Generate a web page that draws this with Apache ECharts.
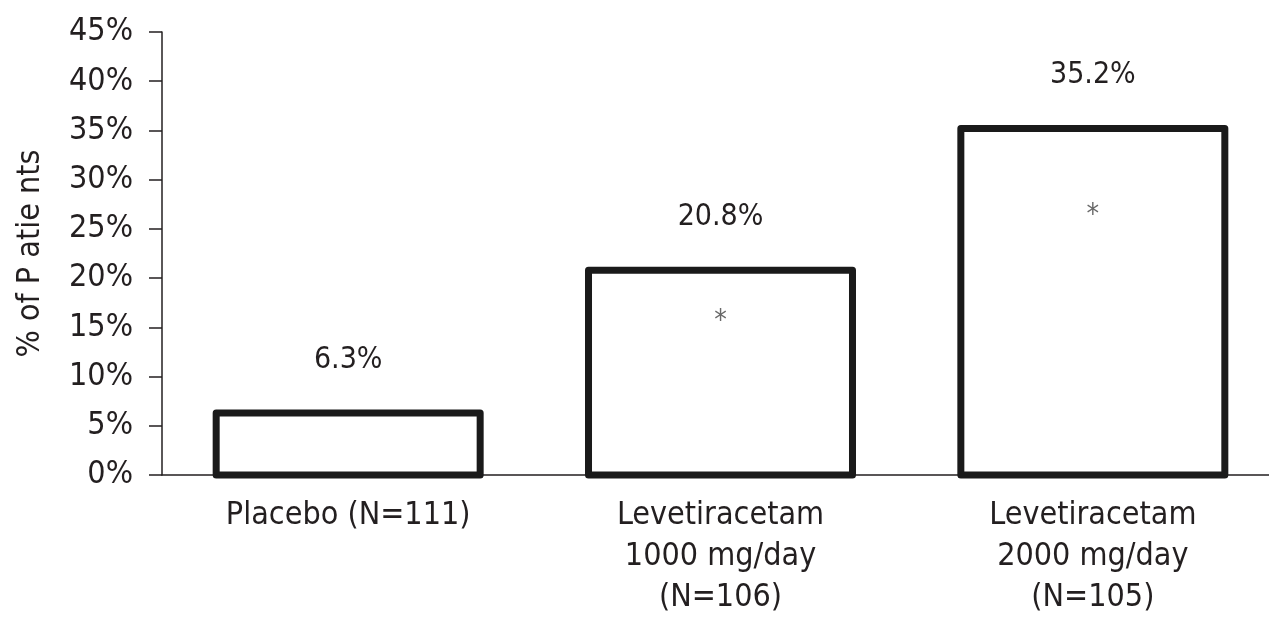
<!DOCTYPE html>
<html>
<head>
<meta charset="utf-8">
<script src="https://cdn.jsdelivr.net/npm/echarts@6/dist/echarts.min.js"></script>
<style>
html,body{margin:0;padding:0;background:#fff;}
#chart{width:1269px;height:621px;}
</style>
</head>
<body>
<div id="chart"></div>
<script>
var categories = ['Placebo (N=111)', 'Levetiracetam\n1000 mg/day\n(N=106)', 'Levetiracetam\n2000 mg/day\n(N=105)'];
var percentValues = [6.3, 20.8, 35.2];
var asteriskPositions = [null, 16.2, 26.9];
var yTicks = [0, 5, 10, 15, 20, 25, 30, 35, 40, 45];

var FONT = '"Liberation Sans Narrow", "DejaVu Sans Condensed", "Roboto Condensed", sans-serif';
var TXT = '#231f20';
var BAR_FRACTION = 0.709;

var chart = echarts.init(document.getElementById('chart'), null, {renderer: 'canvas'});
chart.setOption({
  backgroundColor: '#ffffff',
  animation: false,
  grid: {left: 162, right: -10, top: 32, bottom: 146, containLabel: false, outerBoundsMode: 'none'},
  xAxis: {
    type: 'category',
    data: categories,
    axisLine: {lineStyle: {color: '#231f20', width: 1.5}},
    axisTick: {show: false},
    axisLabel: {
      color: TXT, fontFamily: FONT, fontSize: 32, lineHeight: 41, margin: 20, interval: 0
    }
  },
  yAxis: {
    type: 'value',
    min: yTicks[0], max: yTicks[yTicks.length - 1], interval: 5,
    name: '% of P atie nts',
    nameLocation: 'middle',
    nameGap: 115,
    nameTextStyle: {color: TXT, fontFamily: FONT, fontSize: 32},
    axisLine: {show: true, lineStyle: {color: '#231f20', width: 1.5}},
    axisTick: {show: true, length: 13, lineStyle: {color: '#231f20', width: 1.5}},
    splitLine: {show: false},
    axisLabel: {
      color: TXT, fontFamily: FONT, fontSize: 32, margin: 29,
      formatter: function (v) { return v + '%'; }
    }
  },
  series: [
    {
      type: 'bar',
      data: percentValues,
      barWidth: 264,
      itemStyle: {color: 'rgba(0,0,0,0)', borderWidth: 0},
      label: {
        show: true, position: 'top', distance: 38,
        color: TXT, fontFamily: FONT, fontSize: 30,
        formatter: function (p) { return p.value + '%'; }
      },
      silent: true,
      z: 1
    },
    {
      type: 'custom',
      data: percentValues.map(function (v, i) { return [i, v]; }),
      encode: {x: 0, y: 1},
      renderItem: function (params, api) {
        var top = api.coord([api.value(0), api.value(1)]);
        var base = api.coord([api.value(0), 0]);
        var w = api.size([1, 0])[0] * BAR_FRACTION;
        return {
          type: 'rect',
          shape: {x: top[0] - w / 2, y: top[1], width: w, height: base[1] - top[1]},
          style: {fill: '#ffffff', stroke: '#1a1a1a', lineWidth: 7, lineJoin: 'round'}
        };
      },
      z: 2
    },
    {
      type: 'scatter',
      data: asteriskPositions,
      symbolSize: 1,
      itemStyle: {color: 'rgba(0,0,0,0)'},
      label: {
        show: true, position: 'inside', offset: [0, 6],
        color: '#444', fontFamily: FONT, fontSize: 28,
        formatter: '*'
      },
      z: 3
    }
  ]
});
</script>
</body>
</html>
